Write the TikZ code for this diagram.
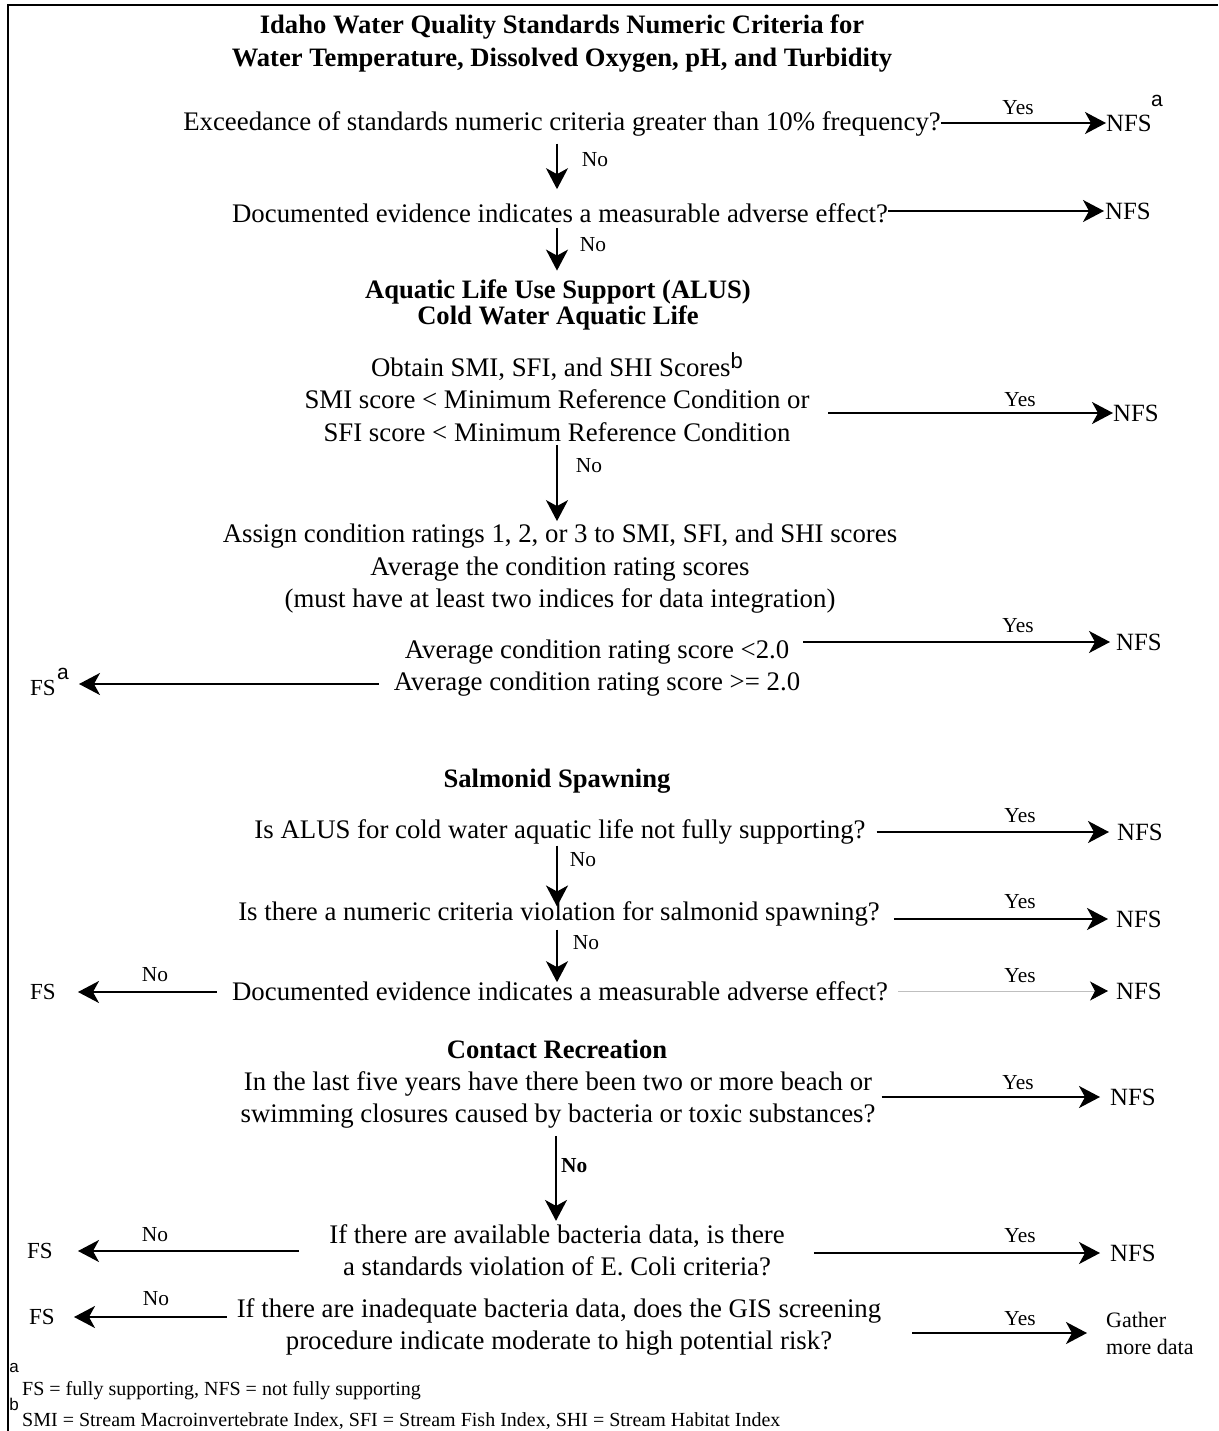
\documentclass[tikz,border=0pt]{standalone}
\usepackage{fontspec}
\setmainfont{Liberation Serif}
\newfontfamily\sansf{Liberation Sans}
\usetikzlibrary{arrows.meta}
\begin{document}
\begin{tikzpicture}[x=1pt,y=-1pt,
 txt/.style={font=\fontsize{26.8}{32.5}\selectfont, align=center, inner sep=0pt},
 hd/.style={font=\fontsize{26.6}{27}\selectfont\bfseries, align=center, inner sep=0pt},
 lbl/.style={font=\fontsize{21.4}{22}\selectfont, inner sep=0pt},
 res/.style={font=\fontsize{24.8}{27}\selectfont, inner sep=0pt, anchor=west, align=left},
 fsn/.style={font=\fontsize{23}{27}\selectfont, inner sep=0pt, anchor=west},
 supa/.style={font=\sansf\fontsize{21}{22}\selectfont, inner sep=0pt},
 arr/.style={line width=2pt, -{Stealth[length=21pt,width=22pt,inset=6pt]}},
 thinarr/.style={line width=0.8pt, draw=black!25, -{Stealth[length=18pt,width=19pt,inset=5pt,color=black]}},
 foot/.style={font=\fontsize{20}{20}\selectfont, inner sep=0pt, anchor=west},
]
\useasboundingbox (0,0) rectangle (1218,1431);
\draw[line width=2.5pt] (8,1431) -- (8,5) -- (1218,5);

% title
\node[hd, font=\fontsize{26.6}{33}\selectfont\bfseries] (title) at (562,44)
  {Idaho Water Quality Standards Numeric Criteria for\\Water Temperature, Dissolved Oxygen, pH, and Turbidity};

% Q1
\node[txt] (q1) at (562,124) {Exceedance of standards numeric criteria greater than 10\% frequency?};
\node[res] (nfs1) at (1106,123) {NFS};
\node[supa] (nfs1a) at (1157,101) {a};
\node[lbl] (y1) at (1018,108) {Yes};
\draw[arr] (q1.east |- nfs1.west) -- (nfs1.west);

% Q2
\node[txt] (q2) at (560,213) {Documented evidence indicates a measurable adverse effect?};
\node[res] (nfs2) at (1105,211) {NFS};
\draw[arr, shorten >=1pt] (q2.east |- nfs2.west) -- (nfs2.west);
\draw[arr, shorten <=7pt, shorten >=14pt] (q1.south -| 557,0) -- (q2.north -| 557,0);
\node[lbl] (n1) at (595,160) {No};

% ALUS
\node[hd] (alus) at (558,305) {Aquatic Life Use Support (ALUS)\\[-1pt]Cold Water Aquatic Life};
\draw[arr, shorten <=5pt, shorten >=9pt] (q2.south -| 557,0) -- (alus.north -| 557,0);
\node[lbl] (n2) at (593,245) {No};

\node[txt] (smi) at (557,397) {Obtain SMI, SFI, and SHI Scores\raisebox{8pt}{\sansf\fontsize{22}{22}\selectfont b}\\SMI score < Minimum Reference Condition or\\SFI score < Minimum Reference Condition};
\node[res] (nfs3) at (1113,413) {NFS};
\node[lbl] (y3) at (1020,400) {Yes};
\coordinate (s3) at (828,413);
\draw[arr] (s3) -- (nfs3.west);

\node[txt] (asg) at (560,569) {Assign condition ratings 1, 2, or 3 to SMI, SFI, and SHI scores\\Average the condition rating scores\\(must have at least two indices for data integration)};
\draw[arr, shorten <=3pt, shorten >=3pt] (smi.south -| 557,0) -- (asg.north -| 557,0);
\node[lbl] (n3) at (589,466) {No};

\node[txt] (av1) at (597,652) {Average condition rating score <2.0};
\node[res] (nfs5) at (1116,642) {NFS};
\node[lbl] (y5) at (1018,626) {Yes};
\draw[arr, shorten <=14pt, shorten >=6pt] (av1.east |- nfs5.west) -- (nfs5.west);

\node[txt] (av2) at (597,684) {Average condition rating score >= 2.0};
\node[fsn] (fs1) at (30,688) {FS};
\node[supa] (fs1a) at (63,674) {a};
\draw[arr, shorten <=15pt, shorten >=23pt] (av2.west) -- (av2.west -| fs1.east);

% Salmonid
\node[hd] (salm) at (557,781) {Salmonid Spawning};

\node[txt] (q6) at (560,832) {Is ALUS for cold water aquatic life not fully supporting?};
\node[res] (nfs6) at (1117,832) {NFS};
\node[lbl] (y6) at (1020,816) {Yes};
\draw[arr, shorten <=11pt, shorten >=8pt] (q6.east |- nfs6.west) -- (nfs6.west);

\node[txt] (q7) at (559,914) {Is there a numeric criteria violation for salmonid spawning?};
\node[res] (nfs7) at (1116,919) {NFS};
\node[lbl] (y7) at (1020,902) {Yes};
\draw[arr, shorten <=14pt, shorten >=8pt] (q7.east |- nfs7.west) -- (nfs7.west);
\draw[arr, shorten <=1pt, shorten >=-5pt] (q6.south -| 557,0) -- (q7.north -| 557,0);
\node[lbl] (n6) at (583,860) {No};

\node[txt] (q8) at (560,991) {Documented evidence indicates a measurable adverse effect?};
\node[res] (nfs8) at (1116,991) {NFS};
\node[lbl] (y8) at (1020,976) {Yes};
\draw[thinarr, shorten <=10pt, shorten >=8pt] (q8.east |- nfs8.west) -- (nfs8.west);
\draw[arr, shorten <=3pt, shorten >=-1pt] (q7.south -| 557,0) -- (q8.north -| 557,0);
\node[lbl] (n7) at (586,943) {No};
\node[fsn] (fs2) at (30,992) {FS};
\node[lbl] (n8) at (155,975) {No};
\draw[arr, shorten <=15pt, shorten >=22pt] (q8.west |- fs2.east) -- (fs2.east);

% Contact recreation
\node[hd] (cr) at (557,1049) {Contact Recreation};
\node[txt] (q9) at (558,1100) {In the last five years have there been two or more beach or\\swimming closures caused by bacteria or toxic substances?};
\node[res] (nfs9) at (1110,1097) {NFS};
\node[lbl] (y9) at (1018,1083) {Yes};
\draw[arr, shorten <=6pt, shorten >=10pt] (q9.east |- nfs9.west) -- (nfs9.west);

\node[txt] (q10) at (557,1250) {If there are available bacteria data, is there\\a standards violation of E. Coli criteria?};
\draw[arr, shorten <=7pt, shorten >=3pt] (q9.south -| 556,0) -- (q10.north -| 556,0);
\node[lbl, font=\fontsize{21.4}{22}\selectfont\bfseries, anchor=west] (n9) at (561,1166) {No};
\node[res] (nfs10) at (1110,1253) {NFS};
\node[lbl] (y10) at (1020,1236) {Yes};
\draw[arr, shorten <=29pt, shorten >=10pt] (q10.east |- nfs10.west) -- (nfs10.west);
\node[fsn] (fs3) at (27,1251) {FS};
\node[lbl] (n10) at (155,1235) {No};
\draw[arr, shorten <=30pt, shorten >=25pt] (q10.west |- fs3.east) -- (fs3.east);

\node[txt] (q11) at (559,1327) {If there are inadequate bacteria data, does the GIS screening\\procedure indicate moderate to high potential risk?};
\node[res, font=\fontsize{22}{27}\selectfont] (gat) at (1106,1333) {Gather\\more data};
\node[lbl] (y11) at (1020,1319) {Yes};
\draw[arr, shorten <=31pt, shorten >=19pt] (q11.east |- gat.west) -- (gat.west);
\node[fsn] (fs4) at (29,1317) {FS};
\node[lbl] (n11) at (156,1299) {No};
\draw[arr, shorten <=10pt, shorten >=19pt] (q11.west |- fs4.east) -- (fs4.east);

% footnotes
\node[supa, font=\sansf\fontsize{17}{18}\selectfont] (fa) at (14,1368) {a};
\node[foot] (f1) at (22,1391) {FS = fully supporting, NFS = not fully supporting};
\node[supa, font=\sansf\fontsize{17}{18}\selectfont] (fb) at (14,1404) {b};
\node[foot] (f2) at (22,1421) {SMI = Stream Macroinvertebrate Index, SFI = Stream Fish Index, SHI = Stream Habitat Index};
\end{tikzpicture}
\end{document}
